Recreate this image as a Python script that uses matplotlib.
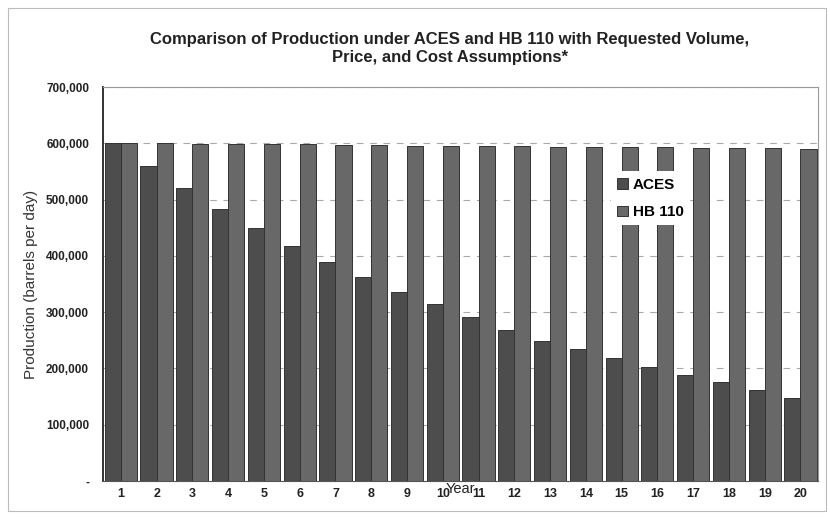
import numpy as np
import matplotlib.pyplot as plt
from matplotlib.patches import Rectangle
from matplotlib.ticker import FuncFormatter

years = list(range(1, 21))
aces = [600000, 560000, 521000, 484000, 450000, 417000, 389000, 362000, 336000, 314000,
        291000, 269000, 249000, 234000, 219000, 203000, 188000, 175000, 161000, 148000]
hb110 = [600000, 600000, 599000, 599000, 598000, 598000, 597000, 597000, 596000, 596000,
         595000, 595000, 594000, 594000, 593000, 593000, 592000, 592000, 591000, 590000]

title = 'Comparison of Production under ACES and HB 110 with Requested Volume,\nPrice, and Cost Assumptions*'

plt.rcParams['font.family'] = ['Liberation Sans', 'DejaVu Sans']

fig = plt.figure(figsize=(8.3, 5.21), dpi=100)
ax = fig.add_axes([0.124, 0.077, 0.862, 0.756])

x = np.array(years)
w = 0.45
ax.bar(x - w / 2, aces, width=w, color='#4d4d4d', edgecolor='#333333', linewidth=0.7,
       label='ACES', zorder=2)
ax.bar(x + w / 2, hb110, width=w, color='#686868', edgecolor='#333333', linewidth=0.7,
       label='HB 110', zorder=2)

ax.set_xlim(0.5, 20.5)
ax.set_ylim(0, 700000)
ax.set_yticks(range(0, 700001, 100000))
ax.yaxis.set_major_formatter(FuncFormatter(lambda v, p: '-' if v == 0 else f'{int(v):,}'))
ax.set_xticks(years)
ax.tick_params(axis='y', length=0, labelsize=8.5, pad=10)
ax.tick_params(axis='x', length=0, labelsize=9, pad=5)
for t in ax.get_xticklabels() + ax.get_yticklabels():
    t.set_fontweight('bold')
    t.set_color('#222222')

ax.grid(axis='y', linestyle=(0, (6, 6)), color='#aaaaaa', linewidth=0.8, zorder=0)
for s in ['top', 'right']:
    ax.spines[s].set_color('#999999')
ax.spines['bottom'].set_color('#555555')
ax.spines['left'].set_color('#222222')
ax.spines['left'].set_linewidth(1.3)

ax.set_ylabel('Production (barrels per day)', fontsize=11, color='#333333', labelpad=6)
ax.set_xlabel('Year', fontsize=10.5, color='#222222', labelpad=-13)

fig.text(0.542, 0.906, title, ha='center', va='center', fontsize=12, fontweight='bold',
         color='#222222', linespacing=1.25)

leg = ax.legend(loc='upper left', bbox_to_anchor=(0.70, 0.805), frameon=True, fancybox=False,
                edgecolor='none', facecolor='white', framealpha=1, handlelength=0.7,
                handleheight=0.7, handletextpad=0.3, labelspacing=0.9, borderpad=0.4,
                prop={'size': 11, 'weight': 'bold'})
leg.set_zorder(5)

fig.patches.append(Rectangle((0.01, 0.02), 0.985, 0.965, transform=fig.transFigure,
                             fill=False, edgecolor='#bbbbbb', linewidth=0.8))

fig.savefig('out.png', dpi=100)
